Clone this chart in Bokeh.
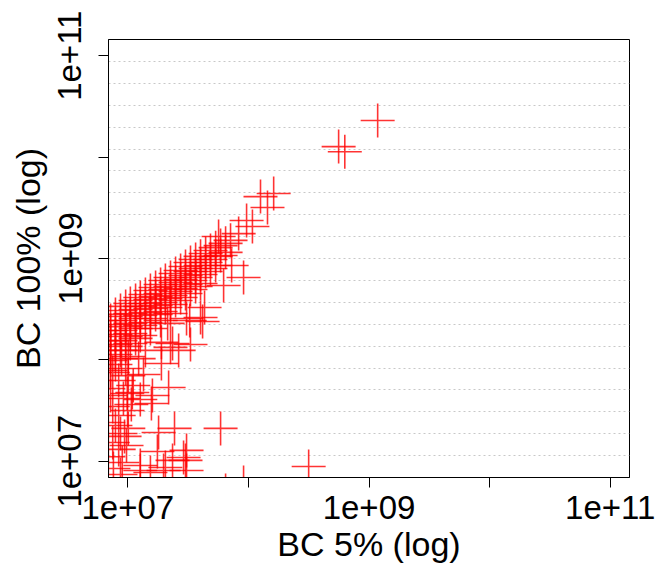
from bokeh.plotting import figure
from bokeh.models import Range1d, FixedTicker, CustomJSTickFormatter, ColumnDataSource
from bokeh.embed import file_html
from bokeh.resources import INLINE

# ---- data: BC 5% (x) and BC 100% (y) ----
bc5 = [
    1.18e9, 5.6e8, 6.3e8, 1.62e8, 1.26e8, 1.44e8, 9.66e7, 1.08e8, 8.30e7, 5.66e7,
    5.88e7, 7.26e7, 9.12e7, 6.23e7, 4.33e7, 4.17e7, 3.07e7, 3.31e7, 2.64e7, 2.26e7,
    1.90e7, 1.35e7, 2.18e7, 1.60e7, 1.01e7, 1.80e7, 2.44e7, 5.88e7, 1.76e7, 2.35e7,
    3.01e7, 2.05e7, 1.27e7, 1.54e7, 3.16e8, 9.12e7, 6.47e7, 1.07e7, 8.87e6, 1.01e7,
    1.11e7, 2.14e7, 3.26e7, 4.01e7, 1.90e7, 1.01e7, 1.09e7, 9.9e6, 1.57e7, 1.27e7,
    # dense band
    7.2e6, 7.2e6, 7.2e6, 7.2e6, 7.2e6,
    7.9e6, 7.9e6, 7.9e6, 7.9e6, 7.9e6, 7.9e6,
    8.7e6, 8.7e6, 8.7e6, 8.7e6, 8.7e6,
    9.6e6, 9.6e6, 9.6e6, 9.6e6, 9.6e6,
    1.05e7, 1.05e7, 1.05e7, 1.05e7, 1.05e7,
    1.16e7, 1.16e7, 1.16e7, 1.16e7, 1.16e7,
    1.27e7, 1.27e7, 1.27e7, 1.27e7, 1.27e7,
    1.40e7, 1.40e7, 1.40e7, 1.40e7,
    1.54e7, 1.54e7, 1.54e7, 1.54e7, 1.54e7,
    1.70e7, 1.70e7, 1.70e7, 1.70e7,
    1.87e7, 1.87e7, 1.87e7, 1.87e7, 1.87e7,
    2.05e7, 2.05e7, 2.05e7, 2.05e7,
    2.26e7, 2.26e7, 2.26e7, 2.26e7, 2.26e7,
    2.49e7, 2.49e7, 2.49e7, 2.49e7,
    2.74e7, 2.74e7, 2.74e7, 2.74e7,
    3.01e7, 3.01e7, 3.01e7, 3.01e7,
    3.31e7, 3.31e7, 3.31e7, 3.31e7,
    3.65e7, 3.65e7, 3.65e7, 3.65e7,
    4.01e7, 4.01e7, 4.01e7, 4.01e7,
    4.42e7, 4.42e7, 4.42e7,
    4.85e7, 4.85e7, 4.85e7,
    5.35e7, 5.35e7, 5.35e7,
    5.88e7,
    6.47e7, 6.47e7,
    7.11e7,
    # left edge, lower part
    7.5e6, 8.4e6, 6.9e6, 9.2e6, 7.5e6, 8.4e6, 6.9e6, 9.4e6, 7.5e6, 8.4e6,
    6.9e6, 9.0e6, 7.6e6, 8.7e6, 9.76e6, 8.7e6, 9.95e6, 2.90e7, 3.07e7, 1.98e7,
    1.27e7, 3.07e7, 2.35e7, 7.2e6, 7.9e6, 7.2e6, 9.6e6, 1.23e7, 1.40e7,
]
bc100 = [
    2.30e10, 1.27e10, 1.13e10, 4.38e9, 4.08e9, 3.18e9, 2.37e9, 2.07e9, 1.76e9, 1.65e9,
    1.34e9, 8.53e8, 6.50e8, 5.42e8, 3.29e8, 2.39e8, 2.56e8, 1.42e8, 1.24e8, 1.33e8,
    9.21e7, 7.18e7, 5.35e7, 4.46e7, 2.11e7, 1.92e7, 2.11e7, 2.11e7, 1.25e7, 1.02e7,
    1.02e7, 8.69e6, 8.11e6, 7.76e6, 8.89e6, 6.18e6, 5.15e6, 3.63e7, 1.03e8, 1.08e8,
    5.59e7, 2.29e8, 2.45e8, 2.62e8, 1.49e8, 7.0e7, 4.77e7, 4.66e7, 3.72e7, 4.07e7,
    # dense band
    2.45e8, 1.95e8, 1.55e8, 1.24e8, 9.87e7,
    2.81e8, 2.23e8, 1.78e8, 1.42e8, 1.13e8, 9.0e7,
    3.07e8, 2.45e8, 1.95e8, 1.55e8, 1.24e8,
    3.37e8, 2.68e8, 2.13e8, 1.70e8, 1.36e8,
    3.60e8, 2.87e8, 2.29e8, 1.82e8, 1.45e8,
    3.85e8, 3.14e8, 2.56e8, 2.04e8, 1.63e8,
    4.12e8, 3.37e8, 2.74e8, 2.18e8, 1.74e8,
    4.42e8, 3.60e8, 2.93e8, 2.34e8,
    4.83e8, 3.94e8, 3.21e8, 2.56e8, 2.04e8,
    5.17e8, 4.22e8, 3.44e8, 2.81e8,
    5.54e8, 4.52e8, 3.68e8, 3.00e8, 2.45e8,
    6.07e8, 4.94e8, 4.03e8, 3.29e8,
    6.50e8, 5.30e8, 4.32e8, 3.52e8, 2.87e8,
    7.11e8, 5.80e8, 4.73e8, 3.85e8,
    7.62e8, 6.21e8, 5.06e8, 4.12e8,
    8.34e8, 6.80e8, 5.54e8, 4.52e8,
    9.14e8, 7.45e8, 6.07e8, 4.94e8,
    9.78e8, 7.97e8, 6.50e8, 5.30e8,
    1.05e9, 8.53e8, 6.95e8, 5.67e8,
    1.12e9, 9.14e8, 7.45e8,
    1.20e9, 9.78e8, 7.97e8,
    1.28e9, 1.05e9, 8.53e8,
    1.07e9,
    1.41e9, 1.15e9,
    1.51e9,
    # left edge, lower part
    7.51e7, 6.26e7, 5.23e7, 4.16e7, 3.47e7, 2.83e7, 2.41e7, 1.76e7, 1.53e7, 1.31e7,
    1.11e7, 9.73e6, 8.49e6, 7.41e6, 1.43e7, 1.88e7, 3.17e7, 1.09e7, 8.11e6, 8.11e6,
    9.1e6, 1.28e7, 1.45e8, 4.46e7, 2.25e7, 7.86e7, 8.22e7, 1.03e8, 1.24e8,
]

axis_ticks = [1e7, 1e8, 1e9, 1e10, 1e11]
tick_labels = ["1e+07", "", "1e+09", "", "1e+11"]
x_title = "BC 5% (log)"
y_title = "BC 100% (log)"

lo, hi = 10 ** 6.84, 10 ** 11.16
p = figure(width=662, height=566, x_axis_type="log", y_axis_type="log",
           x_range=Range1d(lo, hi), y_range=Range1d(lo, hi),
           output_backend="svg", toolbar_location=None,
           min_border_left=108, min_border_right=33, min_border_top=39, min_border_bottom=89)
p.background_fill_color = "white"
p.border_fill_color = "white"
p.outline_line_color = "black"
p.outline_line_width = 1
p.outline_line_alpha = 1

src = ColumnDataSource(dict(x=bc5, y=bc100))
p.scatter("x", "y", source=src, marker="cross", size=34,
          line_color="red", line_alpha=0.8, line_width=1.6)

fmt = CustomJSTickFormatter(args=dict(tvals=axis_ticks, tlabs=tick_labels), code="""
let best = 0, bd = Infinity;
for (let i = 0; i < tvals.length; i++) {
  const d = Math.abs(Math.log10(tvals[i]) - Math.log10(tick));
  if (d < bd) { bd = d; best = i; }
}
return tlabs[best];
""")

for ax in (p.xaxis[0], p.yaxis[0]):
    ax.ticker = FixedTicker(ticks=axis_ticks)
    ax.formatter = fmt
    ax.minor_tick_line_color = None
    ax.major_tick_out = 10
    ax.major_tick_in = 0
    ax.major_tick_line_color = "black"
    ax.axis_line_color = "black"
    ax.major_label_text_font = "Liberation Sans"
    ax.major_label_text_font_size = "33px"
    ax.major_label_text_color = "black"
    ax.axis_label_text_font = "Liberation Sans"
    ax.axis_label_text_font_size = "34px"
    ax.axis_label_text_font_style = "normal"
    ax.axis_label_text_color = "black"

p.xaxis.major_label_standoff = 8
p.xaxis.axis_label_standoff = 3
p.yaxis.major_label_standoff = 17
p.yaxis.axis_label_standoff = 9

p.xaxis.axis_label = x_title
p.yaxis.axis_label = y_title
p.yaxis.major_label_orientation = "vertical"

p.xgrid.visible = False
grid_ticks = [10 ** (6.84 + 0.216 * k) for k in range(1, 20)]
p.ygrid.ticker = FixedTicker(ticks=grid_ticks)
p.ygrid.grid_line_color = "#c8c8c8"
p.ygrid.grid_line_dash = "2 3"
p.ygrid.grid_line_width = 1

open("out.html", "w").write(file_html(p, INLINE))
